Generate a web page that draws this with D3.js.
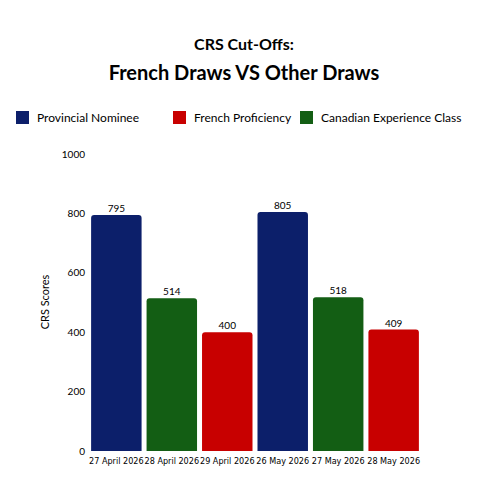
<!DOCTYPE html>
<meta charset="utf-8">
<script src="https://d3js.org/d3.v7.js"></script>
<style>body{margin:0;background:white;font-family:Lato,"Open Sans",sans-serif}</style>
<div id="chart"></div>
<script>
  var dates = ["27 April 2026","28 April 2026","29 April 2026","26 May 2026","27 May 2026","28 May 2026"];
  var scores = [795, 514, 400, 805, 518, 409];
  var kinds = ["Provincial Nominee","Canadian Experience Class","French Proficiency","Provincial Nominee","Canadian Experience Class","French Proficiency"];
  var legendNames = ["Provincial Nominee","French Proficiency","Canadian Experience Class"];
  var yTicks = [0, 200, 400, 600, 800, 1000];

  var colors = {"Provincial Nominee":"#0c1f6a","French Proficiency":"#c80000","Canadian Experience Class":"#135e14"};

  var width = 488, height = 488;
  var svg = d3.select("#chart").append("svg").attr("width", width).attr("height", height);

  svg.append("text").attr("x", 244).attr("y", 50).attr("text-anchor","middle")
    .style("font-size","16px").style("font-weight","bold").text("CRS Cut-Offs:");
  svg.append("text").attr("x", 244).attr("y", 80).attr("text-anchor","middle")
    .style("font-size","20px").style("font-weight","bold").text("French Draws VS Other Draws");

  // legend
  var legX = [16, 173, 300];
  legendNames.forEach(function(n, i) {
    svg.append("rect").attr("x", legX[i]).attr("y", 111).attr("width", 13).attr("height", 13).attr("fill", colors[n]);
    svg.append("text").attr("x", legX[i] + 21).attr("y", 122).style("font-size","12px").text(n);
  });

  var x = d3.scaleBand().domain(dates).range([90, 420]).paddingInner(0.09).paddingOuter(0.02);
  var y = d3.scaleLinear().domain([0, 1000]).range([451, 154]);

  svg.selectAll("text.yt").data(yTicks).enter().append("text")
    .attr("x", 85).attr("y", d => y(d) + 3.5).attr("text-anchor","end")
    .style("font-size","10px").text(d => d);

  svg.append("text").attr("transform","translate(49,302) rotate(-90)").attr("text-anchor","middle")
    .style("font-size","11px").text("CRS Scores");

  svg.selectAll("path.bar").data(scores).enter().append("path")
    .attr("fill", (d, i) => colors[kinds[i]])
    .attr("d", function(d, i) {
      var x0 = x(dates[i]), w = x.bandwidth(), t = y(d), b = y(0), r = 3;
      return "M" + x0 + "," + b + "V" + (t + r) + "Q" + x0 + "," + t + " " + (x0 + r) + "," + t +
        "H" + (x0 + w - r) + "Q" + (x0 + w) + "," + t + " " + (x0 + w) + "," + (t + r) + "V" + b + "Z";
    });

  svg.selectAll("text.val").data(scores).enter().append("text")
    .attr("x", (d, i) => x(dates[i]) + x.bandwidth() / 2).attr("y", d => y(d) - 3)
    .attr("text-anchor","middle").style("font-size","10px").text(d => d);

  svg.selectAll("text.xl").data(dates).enter().append("text")
    .attr("x", d => x(d) + x.bandwidth() / 2).attr("y", 464)
    .attr("text-anchor","middle").style("font-size","9px")
    .style("font-family","'Liberation Sans Narrow','DejaVu Sans Condensed',sans-serif").text(d => d);
</script>
